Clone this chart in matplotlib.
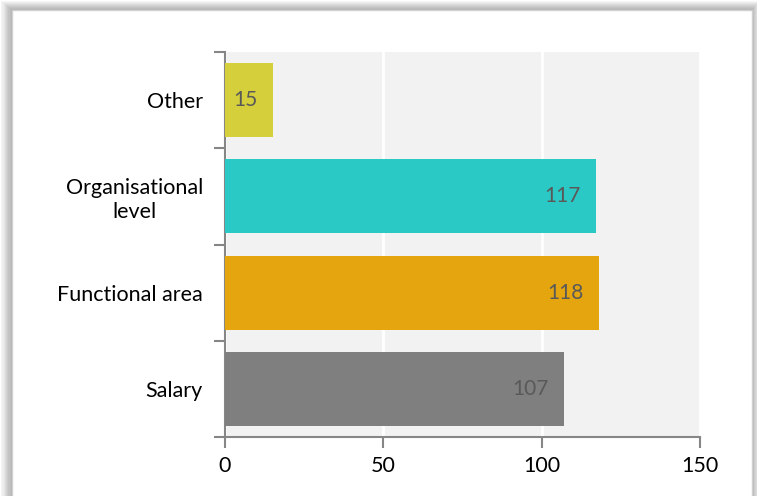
import matplotlib.pyplot as plt
from matplotlib.patches import Rectangle

categories = ['Salary', 'Functional area', 'Organisational\nlevel', 'Other']
values = [107, 118, 117, 15]
colors = ['#7f7f7f', '#e5a50f', '#2bc9c5', '#d4cf3b']

plt.rcParams['font.family'] = ['Lato', 'DejaVu Sans']

W, H = 757, 496
fig = plt.figure(figsize=(W / 100, H / 100), dpi=100)
fig.patch.set_facecolor('white')

# soft shadow round the chart frame
for i in range(10):
    a = 0.035
    fig.patches.append(Rectangle(((12 - i * 1.2) / W, -0.05), (740 + i * 2.0) / W,
                                 (H - 10 + i * 1.0) / H + 0.05, transform=fig.transFigure,
                                 facecolor='black', alpha=a, edgecolor='none', zorder=0))
fig.patches.append(Rectangle((12 / W, -0.05), 740 / W, (H - 10) / H + 0.05,
                             transform=fig.transFigure, facecolor='white',
                             edgecolor='#d0d0d0', lw=1, zorder=1))

ax = fig.add_axes([225 / W, 1 - 437 / H, 475 / W, 385 / H])
ax.set_zorder(2)
ax.set_facecolor('#f2f2f2')

y = list(range(len(categories)))
bars = ax.barh(y, values, height=0.77, color=colors, zorder=3)

for b, v in zip(bars, values):
    ax.annotate(str(v), (b.get_width(), b.get_y() + b.get_height() / 2),
                xytext=(-15, 0), textcoords='offset pixels', ha='right', va='center',
                fontsize=15, color='#595959', zorder=4)

ax.set_xlim(0, 150)
ax.set_ylim(-0.5, 3.5)
ax.set_xticks([0, 50, 100, 150])
ax.xaxis.grid(True, color='white', lw=2, zorder=1)
ax.set_axisbelow(True)

ax.set_yticks(y)
ax.set_yticklabels(categories, multialignment='center')
ax.set_yticks([-0.5, 0.5, 1.5, 2.5, 3.5], minor=True)
ax.tick_params(axis='y', which='major', length=0, pad=16, labelsize=15.5)
ax.tick_params(axis='y', which='minor', length=8, width=1.5, color='#868686')
ax.tick_params(axis='x', length=8, width=1.5, color='#868686', labelsize=15.5, pad=6)

for s in ['top', 'right']:
    ax.spines[s].set_visible(False)
for s in ['left', 'bottom']:
    ax.spines[s].set_color('#868686')
    ax.spines[s].set_linewidth(1.5)

fig.savefig('out.png', dpi=100)
